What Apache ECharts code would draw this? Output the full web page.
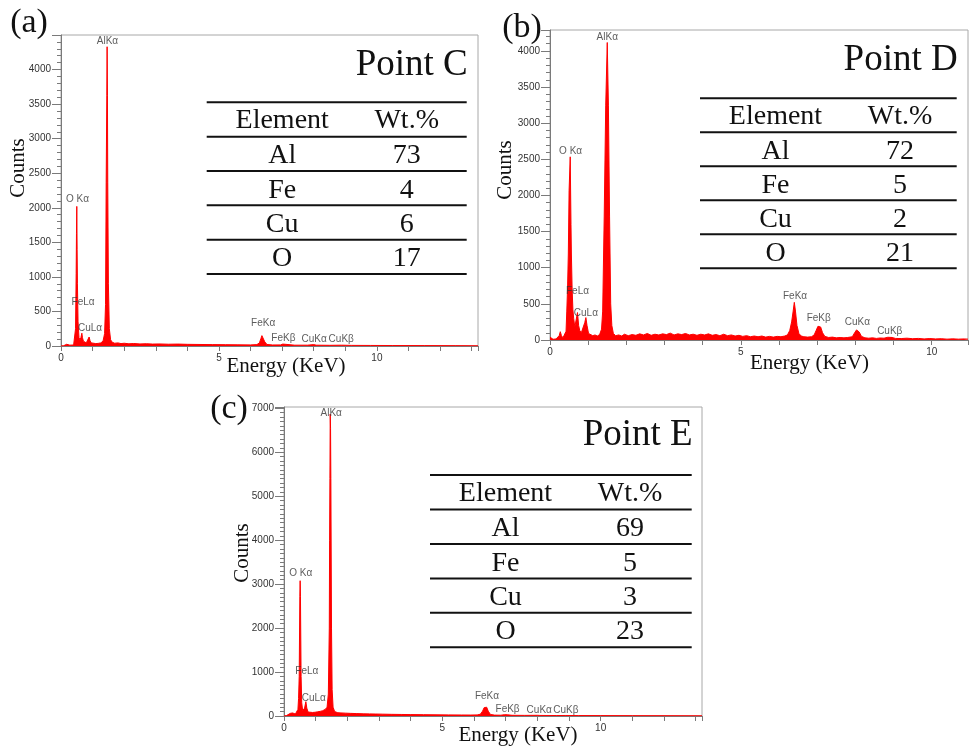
<!DOCTYPE html>
<html><head><meta charset="utf-8">
<script src="https://cdn.jsdelivr.net/npm/echarts@6/dist/echarts.min.js"></script>
<style>html,body{margin:0;padding:0;background:#fff}#c{width:973px;height:748px}</style>
</head><body><div id="c"></div><script>
// ---------- data ----------
const spectrumA = [[0.00,0],[0.08,3],[0.14,8],[0.18,25],[0.21,45],[0.24,30],[0.28,12],[0.34,10],[0.40,15],[0.44,40],[0.46,250],[0.48,1050],[0.49,1630],[0.50,2020],[0.51,1400],[0.52,900],[0.54,350],[0.57,120],[0.60,90],[0.63,120],[0.66,185],[0.68,120],[0.71,70],[0.75,50],[0.80,45],[0.86,70],[0.89,130],[0.92,75],[0.96,45],[1.02,40],[1.10,35],[1.18,38],[1.26,45],[1.33,70],[1.38,180],[1.41,600],[1.43,2370],[1.45,3620],[1.46,4330],[1.47,3620],[1.48,2370],[1.50,900],[1.53,250],[1.57,90],[1.62,55],[1.70,40],[1.80,45],[1.90,35],[2.00,40],[2.15,32],[2.30,36],[2.50,30],[2.70,33],[2.90,28],[3.10,30],[3.40,26],[3.70,28],[4.00,24],[4.40,22],[4.80,20],[5.20,19],[5.60,17],[6.00,16],[6.20,20],[6.28,45],[6.33,110],[6.36,150],[6.40,130],[6.45,60],[6.52,22],[6.70,15],[6.95,16],[7.02,28],[7.08,16],[7.40,12],[7.80,12],[8.00,20],[8.08,12],[8.50,10],[8.88,12],[9.20,9],[9.80,8],[10.50,7],[11.50,6],[12.50,5],[13.20,4]];
const spectrumB = [[0.00,40],[0.03,20],[0.08,10],[0.12,25],[0.16,15],[0.20,20],[0.24,60],[0.27,115],[0.30,60],[0.34,30],[0.38,45],[0.42,120],[0.44,400],[0.46,720],[0.48,1190],[0.50,2065],[0.53,2535],[0.55,1600],[0.56,1190],[0.58,700],[0.60,420],[0.62,300],[0.65,180],[0.68,200],[0.72,380],[0.75,200],[0.78,130],[0.82,100],[0.87,120],[0.91,240],[0.94,310],[0.97,200],[1.01,90],[1.06,65],[1.12,60],[1.18,70],[1.24,55],[1.30,75],[1.35,150],[1.38,400],[1.42,1715],[1.46,3250],[1.50,4117],[1.53,3250],[1.56,1715],[1.59,500],[1.62,200],[1.66,90],[1.72,60],[1.80,70],[1.88,55],[1.95,80],[2.05,60],[2.15,75],[2.25,65],[2.35,85],[2.45,70],[2.55,90],[2.65,65],[2.75,80],[2.85,70],[2.95,85],[3.05,75],[3.15,95],[3.25,70],[3.35,85],[3.45,75],[3.55,90],[3.65,70],[3.75,80],[3.85,65],[3.95,80],[4.05,70],[4.15,85],[4.25,65],[4.35,75],[4.45,60],[4.55,80],[4.65,60],[4.75,70],[4.85,55],[4.95,65],[5.05,50],[5.15,60],[5.25,45],[5.35,55],[5.45,45],[5.55,55],[5.65,40],[5.75,50],[5.85,40],[5.95,50],[6.05,45],[6.15,55],[6.22,70],[6.28,130],[6.33,250],[6.37,400],[6.40,521],[6.43,400],[6.47,200],[6.52,90],[6.58,55],[6.65,45],[6.75,40],[6.85,45],[6.92,70],[6.97,130],[7.02,190],[7.05,217],[7.09,180],[7.14,100],[7.20,50],[7.30,35],[7.40,40],[7.50,30],[7.60,35],[7.70,30],[7.80,35],[7.92,45],[7.98,100],[8.03,140],[8.06,148],[8.10,110],[8.16,50],[8.25,30],[8.35,25],[8.45,30],[8.55,22],[8.65,28],[8.75,25],[8.85,38],[8.90,45],[8.96,35],[9.05,22],[9.20,20],[9.35,25],[9.50,18],[9.65,22],[9.80,15],[9.95,20],[10.10,15],[10.25,18],[10.40,12],[10.55,16],[10.70,12],[10.85,15],[10.95,12]];
const spectrumC = [[0.00,0],[0.08,10],[0.14,30],[0.20,60],[0.24,98],[0.27,70],[0.31,40],[0.36,45],[0.40,60],[0.44,150],[0.46,400],[0.48,900],[0.50,2714],[0.51,3078],[0.52,2714],[0.54,900],[0.56,300],[0.59,120],[0.62,98],[0.65,180],[0.69,326],[0.72,180],[0.76,90],[0.82,75],[0.90,80],[0.98,85],[1.06,95],[1.14,105],[1.22,120],[1.30,150],[1.36,200],[1.40,500],[1.43,2000],[1.44,4000],[1.45,5400],[1.46,6870],[1.47,6545],[1.48,5400],[1.50,2000],[1.52,600],[1.55,200],[1.60,100],[1.70,75],[1.80,70],[1.95,65],[2.10,60],[2.30,55],[2.50,50],[2.70,48],[2.90,45],[3.10,42],[3.40,38],[3.70,35],[4.00,32],[4.40,30],[4.80,27],[5.20,25],[5.60,23],[5.90,22],[6.10,25],[6.20,40],[6.27,110],[6.32,190],[6.36,235],[6.40,200],[6.45,110],[6.52,35],[6.65,20],[6.85,18],[6.96,30],[7.00,38],[7.05,28],[7.20,16],[7.60,14],[8.00,16],[8.08,13],[8.60,11],[8.90,12],[9.30,10],[10.00,9],[11.00,8],[12.00,7],[13.20,6]];

const peakNames = ['AlK\u03b1','O K\u03b1','FeL\u03b1','CuL\u03b1','FeK\u03b1','FeK\u03b2','CuK\u03b1','CuK\u03b2'];
const peakPosA = [[1.47,4410],[0.52,2121],[0.70,632],[0.92,253],[6.40,326],[7.04,108],[8.01,93],[8.87,93]];
const peakPosB = [[1.50,4187],[0.54,2618],[0.72,668],[0.94,369],[6.42,609],[7.04,300],[8.05,240],[8.90,124]];
const peakPosC = [[1.49,6886],[0.53,3246],[0.72,1008],[0.94,402],[6.41,439],[7.06,159],[8.06,136],[8.90,136]];

const tableHeader = ['Element','Wt.%'];
const tableElements = ['Al','Fe','Cu','O'];
const wtC = [73,4,6,17];
const wtD = [72,5,2,21];
const wtE = [69,5,3,23];
const pointNames = ['Point C','Point D','Point E'];
const panelLabels = ['(a)','(b)','(c)'];

const xTickLabels = [0,5,10];
const yTickLabelsAB = [0,500,1000,1500,2000,2500,3000,3500,4000];
const yTickLabelsC = [0,1000,2000,3000,4000,5000,6000,7000];

// ---------- layout ----------
const panels = [
  {grid:{left:61,top:35,width:417,height:311}, xMax:13.2, yMax:4500, yInt:500, ySplit:5, yLabels:yTickLabelsAB, spec:spectrumA, peaks:peakPosA,
   label:[29,23], counts:[18.5,168], energy:[286,366],
   table:{x0:206.7,x1:466.7,top:102.3,rowH:34.34,titleY:65}, wt:wtC},
  {grid:{left:550,top:30,width:418,height:310}, xMax:10.95, yMax:4290, yInt:500, ySplit:5, yLabels:yTickLabelsAB, spec:spectrumB, peaks:peakPosB,
   label:[522,28], counts:[505.5,170], energy:[809.5,363],
   table:{x0:700,x1:956.7,top:98.3,rowH:34.0,titleY:60.5}, wt:wtD},
  {grid:{left:284,top:407,width:418,height:309}, xMax:13.2, yMax:7030, yInt:1000, ySplit:10, yLabels:yTickLabelsC, spec:spectrumC, peaks:peakPosC,
   label:[229,409], counts:[242.5,553], energy:[518,735],
   table:{x0:430,x1:691.7,top:475,rowH:34.46,titleY:435}, wt:wtE}
];

const SANS = 'Liberation Sans';
const SERIF = 'Liberation Serif';
const RED = '#ff0000';

const grids = [], xAxes = [], yAxes = [], series = [], graphics = [];

function txt(x, y, text, size, align, opts) {
  const o = {type:'text', x:x, y:y, silent:true, z:50,
    style:{text:text, fontSize:size, fontFamily:SERIF, fill:'#111',
      align:align||'center', verticalAlign:'middle', textAlign:align||'center', textVerticalAlign:'middle'}};
  if (opts) Object.assign(o, opts);
  return o;
}
function hline(x1, x2, y) {
  return {type:'line', silent:true, z:50, shape:{x1:x1,y1:y,x2:x2,y2:y}, style:{stroke:'#111', lineWidth:2}};
}

panels.forEach((p, i) => {
  grids.push(Object.assign({show:true, borderColor:'#a8a8a8', borderWidth:1, backgroundColor:'#fff'}, p.grid));
  xAxes.push({type:'value', gridIndex:i, min:0, max:p.xMax, interval:1,
    axisLine:{show:true, onZero:false, lineStyle:{color:'#7a7a7a', width:1}},
    axisTick:{show:true, length:5, lineStyle:{color:'#7a7a7a'}},
    axisLabel:{show:true, margin:7, fontSize:10, fontFamily:SANS, color:'#333',
      formatter:v => xTickLabels.indexOf(Math.round(v*1000)/1000) >= 0 ? String(v) : ''},
    splitLine:{show:false}});
  yAxes.push({type:'value', gridIndex:i, min:0, max:p.yMax, interval:p.yInt,
    axisLine:{show:true, onZero:false, lineStyle:{color:'#7a7a7a', width:1}},
    axisTick:{show:true, length:9, lineStyle:{color:'#7a7a7a'}},
    minorTick:{show:true, splitNumber:p.ySplit, length:4, lineStyle:{color:'#7a7a7a'}},
    axisLabel:{show:true, margin:10, fontSize:10, fontFamily:SANS, color:'#333',
      formatter:v => p.yLabels.indexOf(v) >= 0 ? String(v) : ''},
    splitLine:{show:false}, minorSplitLine:{show:false}});
  series.push({type:'line', xAxisIndex:i, yAxisIndex:i, data:p.spec, symbol:'none', showSymbol:false,
    sampling:false, smooth:false, silent:true, z:2,
    lineStyle:{color:RED, width:1}, areaStyle:{color:RED, opacity:1}, itemStyle:{color:RED}});
  series.push({type:'scatter', xAxisIndex:i, yAxisIndex:i, symbolSize:1, silent:true, z:5,
    itemStyle:{color:'rgba(0,0,0,0)'},
    data:peakNames.map((n,k) => ({name:n, value:p.peaks[k]})),
    label:{show:true, position:'inside', formatter:'{b}', fontSize:10, fontFamily:SANS, color:'#333'}});

  // panel label & axis names
  graphics.push(txt(p.label[0], p.label[1], panelLabels[i], 34));
  graphics.push(txt(p.counts[0], p.counts[1], 'Counts', 21, 'center', {rotation:Math.PI/2}));
  graphics.push(txt(p.energy[0], p.energy[1], 'Energy (KeV)', 21));

  // composition table
  const t = p.table;
  graphics.push(txt(t.x1 + 1, t.titleY, pointNames[i], 37, 'right'));
  for (let k = 0; k <= 5; k++) graphics.push(hline(t.x0, t.x1, t.top + k*t.rowH));
  const cxE = t.x0 + 75.5, cxW = t.x0 + 200;
  graphics.push(txt(cxE, t.top + 0.5*t.rowH + 1, tableHeader[0], 28));
  graphics.push(txt(cxW, t.top + 0.5*t.rowH + 1, tableHeader[1], 28));
  tableElements.forEach((el, r) => {
    const cy = t.top + (r + 1.5)*t.rowH + 2;
    graphics.push(txt(cxE, cy, el, 28));
    graphics.push(txt(cxW, cy, String(p.wt[r]), 28));
  });
});

const chart = echarts.init(document.getElementById('c'), null, {renderer:'canvas'});
chart.setOption({
  animation:false,
  backgroundColor:'#fff',
  grid:grids, xAxis:xAxes, yAxis:yAxes, series:series, graphic:graphics
});
</script></body></html>
